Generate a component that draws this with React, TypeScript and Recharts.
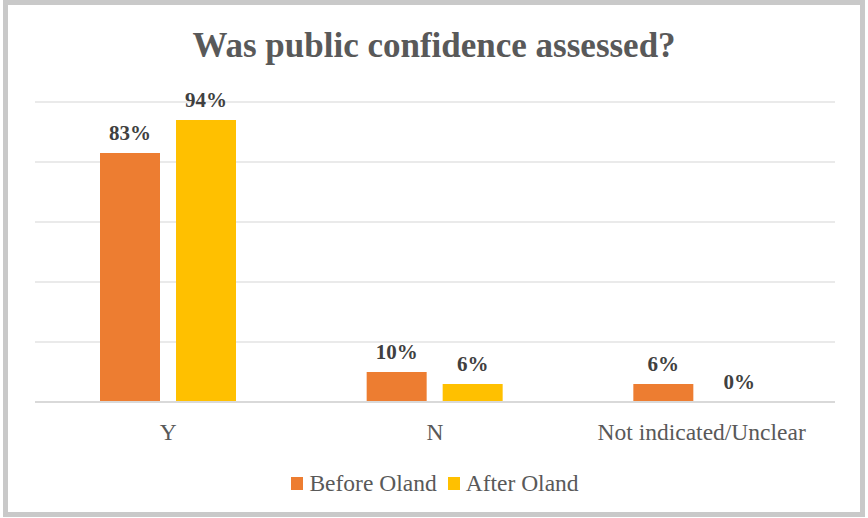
import { BarChart, Bar, XAxis, YAxis, CartesianGrid, Legend, LabelList } from 'recharts';

const categories = ['Y', 'N', 'Not indicated/Unclear'];
const beforeOland = [83, 10, 6];
const afterOland = [94, 6, 0];
const yTicks = [0, 20, 40, 60, 80, 100];

const COLORS = { before: '#ED7D31', after: '#FFC000' };
const FONT = '"Liberation Serif", "DejaVu Serif", serif';

const data = categories.map((name, i) => ({
  name,
  before: beforeOland[i],
  after: afterOland[i],
}));

const LegendContent = () => (
  <div style={{ display: 'flex', justifyContent: 'center', gap: 11, fontFamily: FONT, fontSize: 23.5, color: '#595959' }}>
    {[
      { label: 'Before Oland', color: COLORS.before },
      { label: 'After Oland', color: COLORS.after },
    ].map((item) => (
      <div key={item.label} style={{ display: 'flex', alignItems: 'center' }}>
        <span style={{ width: 12, height: 13, background: item.color, marginRight: 6, display: 'inline-block' }} />
        {item.label}
      </div>
    ))}
  </div>
);

const labelStyle = { fill: '#404040', fontSize: 21, fontFamily: FONT, fontWeight: 'bold' };

export default function App() {
  return (
    <div style={{ position: 'absolute', left: 0, top: 0, width: 868, height: 518, background: '#fff' }}>
      <div
        style={{
          position: 'absolute',
          left: 3,
          top: 0,
          width: 862,
          height: 517,
          border: '5px solid #c9c9c9',
          boxSizing: 'border-box',
        }}
      >
        <div
          style={{
            position: 'absolute',
            left: 0,
            right: 0,
            top: 21,
            textAlign: 'center',
            fontFamily: FONT,
            fontWeight: 'bold',
            fontSize: 35,
            color: '#595959',
          }}
        >
          Was public confidence assessed?
        </div>
        <BarChart
          width={852}
          height={507}
          data={data}
          margin={{ top: 97, right: 25, left: 27, bottom: 0 }}
          barSize={60}
          barGap={16}
        >
          <CartesianGrid vertical={false} stroke="#e3e3e3" strokeWidth={1.5} />
          <XAxis
            dataKey="name"
            axisLine={{ stroke: '#d9d9d9', strokeWidth: 2 }}
            tickLine={false}
            height={68}
            tick={{ fill: '#595959', fontSize: 23.5, fontFamily: FONT, dy: 13 }}
          />
          <YAxis hide domain={[0, 100]} ticks={yTicks} />
          <Legend verticalAlign="bottom" height={42} content={<LegendContent />} />
          <Bar dataKey="before" name="Before Oland" fill={COLORS.before} minPointSize={0.01} isAnimationActive={false}>
            <LabelList dataKey="before" position="top" offset={13} formatter={(v: number) => `${v}%`} style={labelStyle} />
          </Bar>
          <Bar dataKey="after" name="After Oland" fill={COLORS.after} minPointSize={0.01} isAnimationActive={false}>
            <LabelList dataKey="after" position="top" offset={13} formatter={(v: number) => `${v}%`} style={labelStyle} />
          </Bar>
        </BarChart>
      </div>
    </div>
  );
}
